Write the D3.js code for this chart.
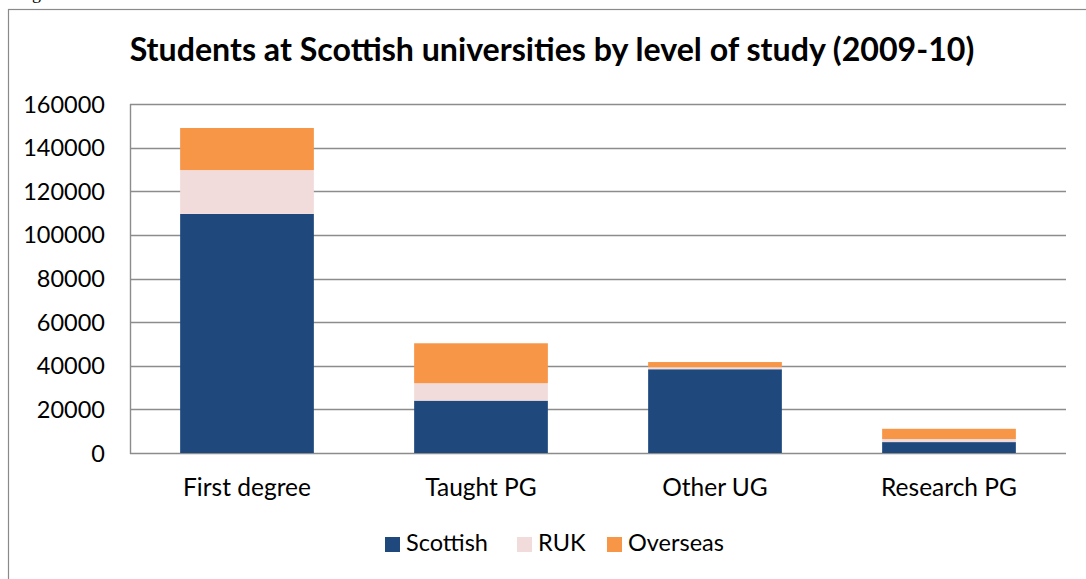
<!DOCTYPE html>
<html><head><meta charset="utf-8">
<script src="https://cdn.jsdelivr.net/npm/d3@7"></script>
<style>html,body{margin:0;padding:0;background:#fff;overflow:hidden}</style>
</head><body>
<svg id="chart" width="1086" height="579"></svg>
<script>
const categories = ["First degree", "Taught PG", "Other UG", "Research PG"];
const seriesNames = ["Scottish", "RUK", "Overseas"];
const scottish = [109600, 24000, 38400, 5000];
const ruk = [20100, 8000, 900, 1400];
const overseas = [19300, 18300, 2400, 4700];
const yTicks = [0, 20000, 40000, 60000, 80000, 100000, 120000, 140000, 160000];
const colors = ["#1F497D", "#F2DCDB", "#F79646"];
const title = "Students at Scottish universities by level of study (2009-10)";

const svg = d3.select("#chart");
const FONT = "Lato, 'Open Sans', sans-serif";
const pLeft = 130, pRight = 1066, pTop = 104, pBottom = 453;

function fit(sel, target) {
  const n = sel.node();
  let fs = parseFloat(sel.attr("font-size"));
  const w = n.getComputedTextLength();
  sel.attr("font-size", (fs * target / w).toFixed(2));
}

// outer frame (extends past the right & bottom edges)
svg.append("rect").attr("x", 8.5).attr("y", 9.5).attr("width", 1200).attr("height", 700)
  .attr("fill", "none").attr("stroke", "#8a8a8a").attr("stroke-width", 1.2);

// cut-off caption at very top (only its descenders show, as in the reference)
svg.append("text").attr("x", 17).attr("y", -1).attr("font-family", "'Liberation Serif', serif")
  .attr("font-size", 18).attr("fill", "#000").text("Figure 3");

const data = categories.map((c, i) => ({cat: c, Scottish: scottish[i], RUK: ruk[i], Overseas: overseas[i]}));
const stacked = d3.stack().keys(seriesNames)(data);

const x = d3.scaleBand().domain(categories).range([pLeft, pRight])
  .paddingInner(0.75 / 1.75).paddingOuter(0.75 / 3.5);
const y = d3.scaleLinear().domain([0, 160000]).range([pBottom, pTop]);

// gridlines
svg.append("g").selectAll("line").data(yTicks).join("line")
  .attr("x1", pLeft).attr("x2", pRight)
  .attr("y1", d => Math.round(y(d)) + 0.5).attr("y2", d => Math.round(y(d)) + 0.5)
  .attr("stroke", "#8c8c8c").attr("stroke-width", 1.4);
// y axis line
svg.append("line").attr("x1", pLeft + 0.5).attr("x2", pLeft + 0.5)
  .attr("y1", y(160000)).attr("y2", y(0) + 1)
  .attr("stroke", "#8c8c8c").attr("stroke-width", 1.4);

// bars
svg.append("g").selectAll("g").data(stacked).join("g")
  .attr("fill", (d, i) => colors[i])
  .selectAll("rect").data(d => d).join("rect")
  .attr("x", d => x(d.data.cat)).attr("width", x.bandwidth())
  .attr("y", d => y(d[1])).attr("height", d => y(d[0]) - y(d[1]));

// y tick labels
svg.append("g").selectAll("text").data(yTicks).join("text")
  .attr("x", 105).attr("y", d => y(d) + 8.5)
  .attr("text-anchor", "end").attr("font-family", FONT).attr("font-size", 23.5)
  .attr("fill", "#000").text(d => d);

// category labels
svg.append("g").selectAll("text").data(categories).join("text")
  .attr("x", d => x(d) + x.bandwidth() / 2).attr("y", 496)
  .attr("text-anchor", "middle").attr("font-family", FONT).attr("font-size", 24.5)
  .attr("fill", "#000").text(d => d);

// title
const t = svg.append("text").attr("x", 552).attr("y", 61).attr("text-anchor", "middle")
  .attr("font-family", FONT).attr("font-weight", "bold").attr("font-size", 29)
  .attr("fill", "#000").text(title);
fit(t, 845);

// legend
const legX = [385, 517, 607];
const lg = svg.append("g").selectAll("g").data(seriesNames).join("g")
  .attr("transform", (d, i) => `translate(${legX[i]},0)`);
lg.append("rect").attr("x", 0).attr("y", 537).attr("width", 15).attr("height", 15)
  .attr("fill", (d, i) => colors[i]);
lg.append("text").attr("x", 21).attr("y", 551).attr("font-family", FONT).attr("font-size", 23.5)
  .attr("fill", "#000").text(d => d);
</script>
</body></html>
